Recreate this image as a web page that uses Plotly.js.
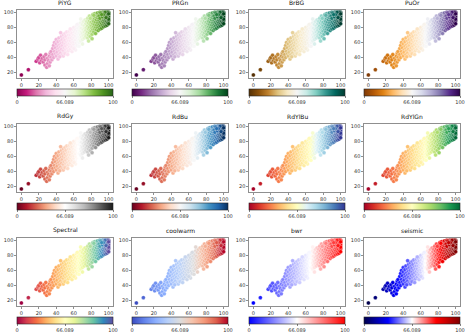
<!DOCTYPE html>
<html><head><meta charset="utf-8">
<script src="https://cdn.plot.ly/plotly-3.0.1.min.js"></script>
<style>html,body{margin:0;padding:0;background:#fff}#c{width:474px;height:335px}</style>
</head><body><div id="c"></div>
<script>
const cmapNames = ["PiYG","PRGn","BrBG","PuOr","RdGy","RdBu","RdYlBu","RdYlGn","Spectral","coolwarm","bwr","seismic"];
const normMin = 0, normCenter = 66.089, normMax = 100;
const cbTickText = ["0","66.089","100"];
const xTicks = [0,20,40,60,80,100];
const yTicks = [20,40,60,80,100];

const xs = [
0,8,17,19,20,21,22,23,24,25,26,27,27,28,29,30,30,31,32,32,33,33,34,34,35,
36,36,37,37,38,38,39,39,40,40,40,41,41,42,42,43,43,43,44,44,45,45,45,46,46,46,47,47,47,48,48,48,49,49,49,50,50,50,51,51,51,52,52,52,53,53,53,54,54,54,55,55,55,55,45,42,48,50,44,53,
56,56,56,57,57,57,58,58,58,59,59,59,60,60,60,60,61,61,61,62,62,62,63,63,63,64,64,64,65,65,65,65,66,66,66,67,67,67,68,68,68,69,69,69,70,70,70,71,71,71,72,72,72,73,73,73,74,74,74,75,75,75,58,62,66,70,60,64,56,68,
76,76,76,76,77,77,77,78,78,78,78,79,79,79,80,80,80,80,81,81,81,82,82,82,82,83,83,83,84,84,84,84,85,85,85,85,86,86,86,86,87,87,87,87,88,88,88,88,79,83,77,81,
89,89,89,89,90,90,90,90,90,91,91,91,91,92,92,92,92,92,93,93,93,93,93,94,94,94,94,94,95,95,95,95,95,96,96,96,96,96,97,97,97,97,97,98,98,98,98,98,99,99,99,99,100,100,100,100,100,100,99,98,91,89,90,93,95,97,96,94,92,100
];
const ys = [
17,24,35,38,40,33,43,36,39,34,41,37,30,44,27,32,39,36,42,29,46,34,40,48,37,
44,52,40,56,48,60,45,53,42,58,64,50,47,55,61,44,52,66,57,49,62,46,54,68,59,51,44,64,56,49,60,70,53,66,46,58,63,72,51,68,55,61,47,74,57,65,52,70,62,49,59,66,75,54,73,38,42,45,41,44,
62,70,51,57,66,76,60,72,54,64,78,68,58,70,61,80,66,74,53,63,77,69,59,72,82,66,75,56,70,62,79,84,67,73,60,76,64,81,70,86,62,74,67,79,72,84,64,69,77,88,74,66,82,70,79,90,76,68,85,72,80,88,48,50,55,58,52,84,78,91,
74,82,92,66,78,86,70,80,89,73,95,76,84,68,82,91,75,87,79,94,71,85,77,90,97,81,88,74,92,84,78,98,87,80,94,72,90,83,96,77,86,93,99,80,89,95,83,76,92,96,62,65,
92,86,98,80,95,89,100,84,78,93,97,87,82,99,95,90,85,79,97,92,100,88,83,95,99,90,86,81,98,93,100,89,84,96,99,92,87,82,100,95,98,90,85,97,100,93,88,83,99,95,91,86,100,97,94,89,85,91,100,96,99,95,92,94,96,93,100,97,97,98
];

const colorscales = {
  PiYG:["#8e0152","#c51b7d","#de77ae","#f1b6da","#fde0ef","#f7f7f7","#e6f5d0","#b8e186","#7fbc41","#4d9221","#276419"],
  PRGn:["#40004b","#762a83","#9970ab","#c2a5cf","#e7d4e8","#f7f7f7","#d9f0d3","#a6dba0","#5aae61","#1b7837","#00441b"],
  BrBG:["#543005","#8c510a","#bf812d","#dfc27d","#f6e8c3","#f5f5f5","#c7eae5","#80cdc1","#35978f","#01665e","#003c30"],
  PuOr:["#7f3b08","#b35806","#e08214","#fdb863","#fee0b6","#f7f7f7","#d8daeb","#b2abd2","#8073ac","#542788","#2d004b"],
  RdGy:["#67001f","#b2182b","#d6604d","#f4a582","#fddbc7","#ffffff","#e0e0e0","#bababa","#878787","#4d4d4d","#1a1a1a"],
  RdBu:["#67001f","#b2182b","#d6604d","#f4a582","#fddbc7","#f7f7f7","#d1e5f0","#92c5de","#4393c3","#2166ac","#053061"],
  RdYlBu:["#a50026","#d73027","#f46d43","#fdae61","#fee090","#ffffbf","#e0f3f8","#abd9e9","#74add1","#4575b4","#313695"],
  RdYlGn:["#a50026","#d73027","#f46d43","#fdae61","#fee08b","#ffffbf","#d9ef8b","#a6d96a","#66bd63","#1a9850","#006837"],
  Spectral:["#9e0142","#d53e4f","#f46d43","#fdae61","#fee08b","#ffffbf","#e6f598","#abdda4","#66c2a5","#3288bd","#5e4fa2"],
  coolwarm:["#3b4cc0","#6282ea","#8db0fe","#b8d0f9","#dddddd","#f5c4ad","#f49a7b","#de604d","#b40426"],
  bwr:["#0000ff","#ffffff","#ff0000"],
  seismic:["#00004c","#0000ff","#ffffff","#ff0000","#800000"]
};

function toScale(list){
  return list.map((c,i)=>[i/(list.length-1), c]);
}
function norm(v){
  return v <= normCenter ? 0.5*(v-normMin)/(normCenter-normMin) : 0.5 + 0.5*(v-normCenter)/(normMax-normCenter);
}
const tvals = xs.map(norm);

const W = 474, H = 335;
const colLeft = [17,132,249,364];
const rowTop = [10,124,238];
const pw = 96, ph = 68;
const font = "DejaVu Sans, sans-serif";

const data = [];
const layout = {
  width: W, height: H, margin:{l:0,r:0,t:0,b:0},
  paper_bgcolor:"#fff", plot_bgcolor:"#fff", showlegend:false,
  font:{family:font, size:5, color:"#222"},
  annotations:[]
};

cmapNames.forEach((name,i)=>{
  const r = Math.floor(i/4), c = i%4;
  const x0 = colLeft[c]/W, x1 = (colLeft[c]+pw)/W;
  const y1 = 1 - rowTop[r]/H, y0 = 1 - (rowTop[r]+ph)/H;
  const sfx = i===0 ? "" : String(i+1);
  const common = {showgrid:false, zeroline:false, showline:true, mirror:true, linecolor:"#444", linewidth:0.6,
    ticks:"outside", ticklen:2, tickwidth:0.6, tickcolor:"#444", tickfont:{size:5, family:font, color:"#333"}};
  layout["xaxis"+sfx] = Object.assign({}, common, {domain:[x0,x1], range:[-5,105], tickvals:xTicks, anchor:"y"+sfx});
  layout["yaxis"+sfx] = Object.assign({}, common, {domain:[y0,y1], range:[12.9,103.1], tickvals:yTicks, anchor:"x"+sfx});
  const cbY = 1 - (rowTop[r]+ph+11)/H;
  data.push({
    type:"scatter", mode:"markers", x:xs, y:ys, xaxis:"x"+sfx, yaxis:"y"+sfx,
    marker:{size:4, color:tvals, cmin:0, cmax:1, colorscale:toScale(colorscales[name]),
      line:{color:"#ffffff", width:0.3}, showscale:true,
      colorbar:{orientation:"h", x:(x0+x1)/2, xanchor:"center", y:cbY, yanchor:"top",
        len:pw/W, lenmode:"fraction", thickness:6.5, thicknessmode:"pixels", xpad:0, ypad:0,
        outlinewidth:0.6, outlinecolor:"#222", tickvals:[0,0.5,1], ticktext:cbTickText,
        ticks:"outside", ticklen:2, tickwidth:0.6, tickcolor:"#333",
        tickfont:{size:5, family:font, color:"#333"}}},
    hoverinfo:"skip"
  });
  layout.annotations.push({text:name, xref:"paper", yref:"paper", x:(x0+x1)/2, y:y1+2/H,
    xanchor:"center", yanchor:"bottom", showarrow:false, font:{size:6, family:font, color:"#111"}});
});

Plotly.newPlot("c", data, layout, {staticPlot:true, displayModeBar:false});
</script></body></html>
